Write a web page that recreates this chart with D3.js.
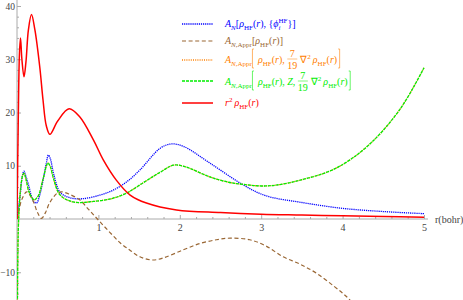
<!DOCTYPE html>
<html><head><meta charset="utf-8">
<script src="https://cdn.jsdelivr.net/npm/d3@7"></script>
<style>body{margin:0;background:#fff}</style>
</head><body>
<svg id="chart" width="463" height="300"></svg>
<script>
// curves, [r, value]
var blueN=[[0,0],[0.037,4.2],[0.065,8.0],[0.086,9.0],[0.11,8.0],[0.14,6.5],[0.2,3.4],[0.24,3.0],[0.28,4.5],[0.32,7.3],[0.36,10.5],[0.385,12.0],[0.41,11.3],[0.45,8.5],[0.53,5.0],[0.65,4.0],[0.8,3.8],[1.02,4.5],[1.18,5.4],[1.35,7.0],[1.51,9.2],[1.76,13.3],[1.9,14.1],[2.05,13.6],[2.37,10.5],[2.78,6.4],[3.05,4.4],[3.5,3.1],[4.0,2.0],[4.5,1.4],[5.0,1.0]];
var brownAppr=[[0,0],[0.03,2.0],[0.057,3.6],[0.12,5.1],[0.2,3.3],[0.25,1.3],[0.3,0.1],[0.35,1.2],[0.4,3.0],[0.49,4.8],[0.55,5.1],[0.65,4.6],[0.77,3.6],[0.88,1.8],[1.0,-0.2],[1.14,-2.5],[1.27,-4.5],[1.4,-6.0],[1.51,-7.1],[1.66,-7.7],[1.8,-7.3],[2.04,-5.8],[2.25,-4.6],[2.45,-3.9],[2.62,-3.6],[2.86,-3.9],[3.05,-5.0],[3.27,-7.1],[3.48,-8.5],[3.68,-10.2],[3.9,-12.7],[4.05,-14.6],[4.2,-17]];
var orangeLap=[[0.001,-30],[0.008,-10],[0.016,-2],[0.03,3],[0.05,6.5],[0.07,8.2],[0.086,8.6],[0.11,7.5],[0.15,5.0],[0.21,3.6],[0.26,4.3],[0.32,7.5],[0.38,10.5],[0.41,9.8],[0.45,7.5],[0.53,4.5],[0.69,3.2],[0.94,3.3],[1.18,3.9],[1.35,4.9],[1.55,6.8],[1.76,8.8],[1.92,10.1],[2.05,9.9],[2.37,7.9],[2.6,6.9],[2.78,6.5],[3.0,6.2],[3.2,6.4],[3.48,7.3],[3.9,9.4],[4.3,13.6],[4.7,20.5],[5.0,28.4]];
var greenZLap=[[0.001,-30],[0.008,-10],[0.016,-2],[0.03,3],[0.05,6.5],[0.07,8.2],[0.086,8.6],[0.11,7.5],[0.15,5.0],[0.21,3.6],[0.26,4.3],[0.32,7.5],[0.38,10.5],[0.41,9.8],[0.45,7.5],[0.53,4.5],[0.69,3.2],[0.94,3.3],[1.18,3.9],[1.35,4.9],[1.55,6.8],[1.76,8.8],[1.92,10.1],[2.05,9.9],[2.37,7.9],[2.6,6.9],[2.78,6.5],[3.0,6.2],[3.2,6.4],[3.48,7.3],[3.9,9.4],[4.3,13.6],[4.7,20.5],[5.0,28.4]];
var redR2rho=[[0,0],[0.015,18],[0.03,31],[0.043,34],[0.06,30],[0.086,26.7],[0.11,29.5],[0.14,35.5],[0.178,38.4],[0.22,35.5],[0.28,28.5],[0.32,22.3],[0.36,17.5],[0.405,15.9],[0.5,18.4],[0.64,20.7],[0.77,19.2],[0.94,14.8],[1.06,11.1],[1.22,7.3],[1.39,4.5],[1.59,3.0],[1.96,1.7],[2.5,1.2],[3.0,0.9],[3.5,0.75],[4.0,0.6],[4.5,0.45],[5.0,0.35]];

var xTicks=[1,2,3,4,5];
var yTicks=[-10,10,20,30,40];

var svg=d3.select("#chart");
var x=d3.scaleLinear().domain([0,5]).range([17,424]);
var y=d3.scaleLinear().domain([0,40]).range([219,6]);
var serif="'Liberation Serif', 'Times New Roman', serif";

// axes, mathematica style: grey, ticks pointing inward
var xMinor=d3.range(0.2,5.01,0.2).filter(function(d){return Math.abs(d-Math.round(d))>0.01});
var yMinor=d3.range(-14,41,2).filter(function(d){return d%10!=0});
var axG=svg.append("g").attr("class","axes");
axG.append("g").attr("transform","translate(0,"+y(0)+")")
   .call(d3.axisBottom(x).tickValues(xMinor).tickSize(-2).tickFormat(""));
axG.append("g").attr("transform","translate(0,"+y(0)+")")
   .call(d3.axisBottom(x).tickValues(xTicks).tickSize(-4).tickPadding(5).tickFormat(d3.format("d")));
axG.append("g").attr("transform","translate("+x(0)+",0)")
   .call(d3.axisLeft(y).tickValues(yMinor).tickSize(-2).tickFormat(""));
var yAx=axG.append("g").attr("transform","translate("+x(0)+",0)")
   .call(d3.axisLeft(y).tickValues(yTicks).tickSize(-4).tickPadding(2).tickFormat(d3.format("d")));
axG.selectAll(".domain").remove();
axG.selectAll(".tick line").attr("stroke","#aaa");
axG.selectAll(".tick text").attr("fill","#444").style("font-family",serif).style("font-size","10px");
yAx.selectAll(".tick text").style("font-size","9.5px");
axG.append("line").attr("x1",x(0)).attr("x2",428).attr("y1",y(0)).attr("y2",y(0)).attr("stroke","#aaa");
axG.append("line").attr("x1",x(0)).attr("x2",x(0)).attr("y1",0).attr("y2",300).attr("stroke","#aaa");
svg.append("text").attr("x",435).attr("y",y(0)+3.5).text("r(bohr)")
   .style("font-family",serif).style("font-size","10px").attr("fill","#444");

svg.append("clipPath").attr("id","clip").append("rect").attr("x",x(0)).attr("y",0).attr("width",420).attr("height",300);

var line=d3.line().x(function(d){return x(d[0])}).y(function(d){return y(d[1])}).curve(d3.curveCatmullRom.alpha(0.5));

var series=[
  {pts:blueN,color:"#0000ff",dash:"1.2,0.9",w:1.3},
  {pts:brownAppr,color:"#996633",dash:"4,2.6",w:1.2},
  {pts:orangeLap,color:"#ff8000",dash:"1,1.2",w:1.3},
  {pts:greenZLap,color:"#00ee00",dash:"3,1",w:1.3},
  {pts:redR2rho,color:"#ff0000",dash:null,w:1.5}
];
var plot=svg.append("g").attr("clip-path","url(#clip)");
series.forEach(function(s){
  plot.append("path").datum(s.pts).attr("d",line).attr("fill","none")
      .attr("stroke",s.color).attr("stroke-width",s.w).attr("stroke-dasharray",s.dash);
});

// legend
var leg=svg.append("g").style("font-family",serif);
var rowY=[24,41,60,81,103];
var baseY=[27,44,63,85,106];
series.forEach(function(s,i){
  leg.append("line").attr("x1",182).attr("x2",213).attr("y1",rowY[i]).attr("y2",rowY[i])
     .attr("stroke",s.color).attr("stroke-width",s.w).attr("stroke-dasharray",s.dash);
});

function put(g,xx,yy,t,opt){
  var el=g.append("text").attr("x",xx).attr("y",yy).text(t)
     .style("font-size",(opt&&opt.fs?opt.fs:10)+"px")
     .style("font-style",opt&&opt.it?"italic":"normal");
  var w=el.node().getComputedTextLength();
  if(opt&&opt.measure) el.remove();
  return w;
}
// k: s = main, b = subscript, p = superscript
function seq(g,xx,yy,parts){
  parts.forEach(function(p){
    if(p.k=="s") xx+=put(g,xx,yy,p.t,{it:p.it});
    else if(p.k=="b") xx+=put(g,xx,yy+2.5,p.t,{it:p.it,fs:7});
    else if(p.k=="p") xx+=put(g,xx,yy-4,p.t,{it:p.it,fs:7});
    else if(p.k=="bp"){
      var w1=put(g,xx,yy+2.5,p.b,{it:true,fs:7});
      var w2=put(g,xx,yy-4.5,p.p,{fs:7});
      xx+=Math.max(w1,w2);
    } else if(p.k=="gap") xx+=p.w;
    else if(p.k=="frac"){
      var wn=put(g,xx,yy,p.n,{measure:true}),wd=put(g,xx,yy,p.d,{measure:true});
      var w=Math.max(wn,wd);
      put(g,xx+(w-wn)/2,yy-6,p.n,{});
      put(g,xx+(w-wd)/2,yy+6,p.d,{});
      g.append("line").attr("x1",xx).attr("x2",xx+w).attr("y1",yy-4).attr("y2",yy-4).attr("stroke","currentColor").attr("stroke-width",0.5);
      xx+=w+3;
    } else if(p.k=="br"){
      var d=p.left?"M"+(xx+2)+","+(yy-14)+"h-1.5v19h1.5":"M"+xx+","+(yy-14)+"h1.5v19h-1.5";
      g.append("path").attr("d",d).attr("fill","none").attr("stroke","currentColor").attr("stroke-width",0.6);
      xx+=4;
    }
  });
  return xx;
}
var sp="\u00a0";
var rho=[{k:"s",t:"ρ",it:true},{k:"b",t:"HF"},{k:"s",t:"("},{k:"s",t:"r",it:true},{k:"s",t:")"}];
var Aappr=[{k:"s",t:"A",it:true},{k:"b",t:"N",it:true},{k:"b",t:",Appr"}];
var legendRows=[
  [{k:"s",t:"A",it:true},{k:"b",t:"N",it:true},{k:"s",t:"["}].concat(rho,[{k:"s",t:","+sp+"{"},{k:"s",t:"ϕ",it:true},{k:"bp",b:"i",p:"HF"},{k:"s",t:"}]"}]),
  Aappr.concat([{k:"s",t:"["}],rho,[{k:"s",t:"]"}]),
  Aappr.concat([{k:"br",left:true},{k:"gap",w:2}],rho,[{k:"s",t:","+sp},{k:"frac",n:"7",d:"19"},{k:"s",t:"∇"},{k:"p",t:"2"},{k:"gap",w:2}],rho,[{k:"gap",w:1},{k:"br"}]),
  Aappr.concat([{k:"br",left:true},{k:"gap",w:2}],rho,[{k:"s",t:","+sp},{k:"s",t:"Z",it:true},{k:"s",t:","+sp},{k:"frac",n:"7",d:"19"},{k:"s",t:"∇"},{k:"p",t:"2"},{k:"gap",w:2}],rho,[{k:"gap",w:1},{k:"br"}]),
  [{k:"s",t:"r",it:true},{k:"p",t:"2"},{k:"gap",w:2}].concat(rho)
];
legendRows.forEach(function(parts,i){
  var g=leg.append("g").attr("fill",series[i].color).style("color",series[i].color);
  seq(g,225,baseY[i],parts);
});
</script>
</body></html>
